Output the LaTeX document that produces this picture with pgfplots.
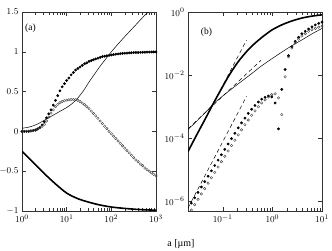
\documentclass[border=0pt]{standalone}
\usepackage{pgfplots}
\pgfplotsset{compat=1.18}
\usepackage{pgfplotstable}
\usepackage{fontspec}
\setmainfont{Liberation Serif}

\pgfplotstableread{
a filled open
1 0.000 0.000
1.122 0.000 0.000
1.259 0.000 0.000
1.413 0.001 0.003
1.585 0.005 0.007
1.778 0.010 0.012
1.995 0.015 0.020
2.239 0.030 0.030
2.512 0.050 0.045
2.818 0.080 0.065
3.162 0.120 0.090
3.548 0.170 0.130
3.981 0.220 0.180
4.467 0.270 0.230
5.012 0.330 0.270
5.623 0.390 0.310
6.310 0.450 0.340
7.079 0.510 0.360
7.943 0.560 0.375
8.913 0.600 0.385
10 0.640 0.393
11.22 0.670 0.398
12.59 0.710 0.400
14.13 0.740 0.400
15.85 0.770 0.398
17.78 0.790 0.390
19.95 0.810 0.375
22.39 0.830 0.355
25.12 0.850 0.335
28.18 0.860 0.310
31.62 0.880 0.285
35.48 0.890 0.255
39.81 0.900 0.225
44.67 0.910 0.195
50.12 0.920 0.165
56.23 0.930 0.130
63.10 0.940 0.100
70.79 0.945 0.065
79.43 0.950 0.035
89.13 0.955 0.000
100 0.960 -0.030
112.2 0.965 -0.060
125.9 0.970 -0.090
141.3 0.973 -0.120
158.5 0.976 -0.150
177.8 0.979 -0.180
199.5 0.982 -0.210
223.9 0.984 -0.240
251.2 0.986 -0.270
281.8 0.988 -0.300
316.2 0.990 -0.330
354.8 0.991 -0.360
398.1 0.992 -0.380
446.7 0.993 -0.410
501.2 0.994 -0.430
562.3 0.995 -0.460
631.0 0.996 -0.480
707.9 0.997 -0.500
794.3 0.998 -0.520
891.3 0.999 -0.540
1000 1.000 -0.560
}\dotsA

\pgfplotstableread{
a v
1 0.04
1.334 0.05
1.778 0.07
2.371 0.10
3.162 0.14
4.217 0.18
5.623 0.22
7.499 0.26
10 0.30
13.34 0.35
17.78 0.42
23.71 0.51
31.62 0.62
42.17 0.72
56.23 0.82
74.99 0.91
100 1.00
177.8 1.16
316.2 1.31
562.3 1.46
676 1.50
}\thinA

\pgfplotstableread{
a v
1 -0.250
1.778 -0.390
3.162 -0.530
5.623 -0.660
10 -0.775
17.78 -0.845
31.62 -0.890
56.23 -0.925
100 -0.950
177.8 -0.965
316.2 -0.977
562.3 -0.985
1000 -0.990
}\thickA

\pgfplotstableread{
a filled open
0.01995 6.03e-7 3.631e-7
0.02330 8.91e-7 5.370e-7
0.02723 1.318e-6 7.943e-7
0.03181 1.950e-6 1.175e-6
0.03715 2.884e-6 1.738e-6
0.04340 4.266e-6 2.570e-6
0.05070 6.310e-6 3.802e-6
0.05923 9.333e-6 5.623e-6
0.06918 1.380e-5 8.318e-6
0.08082 2.042e-5 1.230e-5
0.09441 3.020e-5 1.820e-5
0.1103 4.467e-5 2.692e-5
0.1288 6.607e-5 3.981e-5
0.1505 9.772e-5 5.888e-5
0.1758 1.445e-4 8.710e-5
0.2054 2.138e-4 1.288e-4
0.2399 3.090e-4 1.862e-4
0.2802 4.365e-4 2.692e-4
0.3273 6.166e-4 3.802e-4
0.3824 8.318e-4 5.370e-4
0.4467 1.096e-3 7.413e-4
0.5218 1.413e-3 1.000e-3
0.6095 1.738e-3 1.318e-3
0.7120 1.995e-3 1.660e-3
0.8318 2.188e-3 2.042e-3
0.9716 2.042e-3 2.399e-3
1.135 1.318e-3 2.570e-3
1.326 1.995e-4 1.905e-3
1.549 3.548e-3 5.623e-4
1.809 1.514e-2 8.913e-3
2.113 4.169e-2 3.802e-2
2.469 7.943e-2 7.244e-2
2.884 0.1175 0.1047
3.369 0.1585 0.1380
3.936 0.2042 0.1738
4.597 0.2455 0.2089
5.370 0.2884 0.2455
6.273 0.3388 0.2754
7.328 0.3890 0.3020
8.561 0.4365 0.3311
10 0.4786 0.3548
}\dotsB

\pgfplotstableread{
a v
0.01995 3.802e-5
0.03162 1.514e-4
0.04266 3.631e-4
0.06607 1.349e-3
0.1 4.365e-3
0.1259 8.318e-3
0.1585 1.479e-2
0.1995 2.512e-2
0.2512 3.981e-2
0.3162 6.026e-2
0.3981 8.710e-2
0.5012 0.1202
0.6310 0.1622
0.7943 0.2138
1 0.2754
1.585 0.3981
2.512 0.5248
3.981 0.6457
6.310 0.7413
10 0.8128
}\thickB

\pgfplotstableread{
a v
0.01995 1.905e-4
0.03162 3.802e-4
0.05012 7.943e-4
0.06683 1.288e-3
0.1 2.188e-3
0.1585 3.890e-3
0.2512 6.761e-3
0.3981 1.175e-2
0.5888 1.905e-2
1 3.388e-2
1.585 5.495e-2
2.512 8.710e-2
3.981 0.1318
6.310 0.2042
10 0.3020
}\thinB

\begin{document}
\begin{tikzpicture}
\useasboundingbox (0bp,0bp) rectangle (332bp,251bp);
\pgfplotsset{
  every axis/.append style={
    scale only axis, width=134bp, height=199bp, anchor=south west,
    font=\fontsize{9.5}{11}\selectfont,
    axis line style={line width=0.5pt, black!80},
    every tick/.style={black!80, line width=0.4pt},
    tick align=inside,
  },
  thinline/.style={black, line width=0.5pt, smooth, no marks},
  thickline/.style={black, line width=1.6pt, smooth, no marks},
  fdot/.style={only marks, mark=*, mark size=1.2pt, mark options={draw=black, fill=black}},
  odot/.style={only marks, mark=o, mark size=1.25pt, mark options={draw=black!75, line width=0.4pt}},
  dashline/.style={black, line width=0.5pt, dash pattern=on 4pt off 3pt, no marks},
}
\begin{axis}[
  at={(22bp,40bp)},
  xmode=log, xmin=1, xmax=1000,
  ymin=-1, ymax=1.5,
  xtick={1,10,100,1000},
  ytick={-1,-0.5,0,0.5,1,1.5},
]
\addplot[thinline] table[x=a,y=v] {\thinA};
\addplot[thickline] table[x=a,y=v] {\thickA};
\addplot[fdot] table[x=a,y=filled] {\dotsA};
\addplot[odot] table[x=a,y=open] {\dotsA};
\node at (rel axis cs:0.063,0.92) {(a)};
\end{axis}
\begin{axis}[
  at={(188bp,40bp)},
  xmode=log, ymode=log,
  xmin=0.02, xmax=10,
  ymin=5e-7, ymax=1,
  xtick={0.1,1,10},
  ytick={1e-6,1e-4,1e-2,1},
  yminorticks=false,
]
\addplot[dashline] coordinates {(0.01995,3.715e-5) (0.302,0.1288)};
\addplot[dashline] coordinates {(0.01995,6.166e-7) (0.302,2.138e-3)};
\addplot[dashline] coordinates {(0.01995,1.995e-4) (0.5888,2.951e-2)};
\addplot[thinline] table[x=a,y=v] {\thinB};
\addplot[thickline] table[x=a,y=v] {\thickB};
\addplot[fdot] table[x=a,y=filled] {\dotsB};
\addplot[odot] table[x=a,y=open] {\dotsB};
\node at (rel axis cs:0.138,0.90) {(b)};
\end{axis}
\node at (181bp,7bp) {a [µm]};
\end{tikzpicture}
\end{document}
